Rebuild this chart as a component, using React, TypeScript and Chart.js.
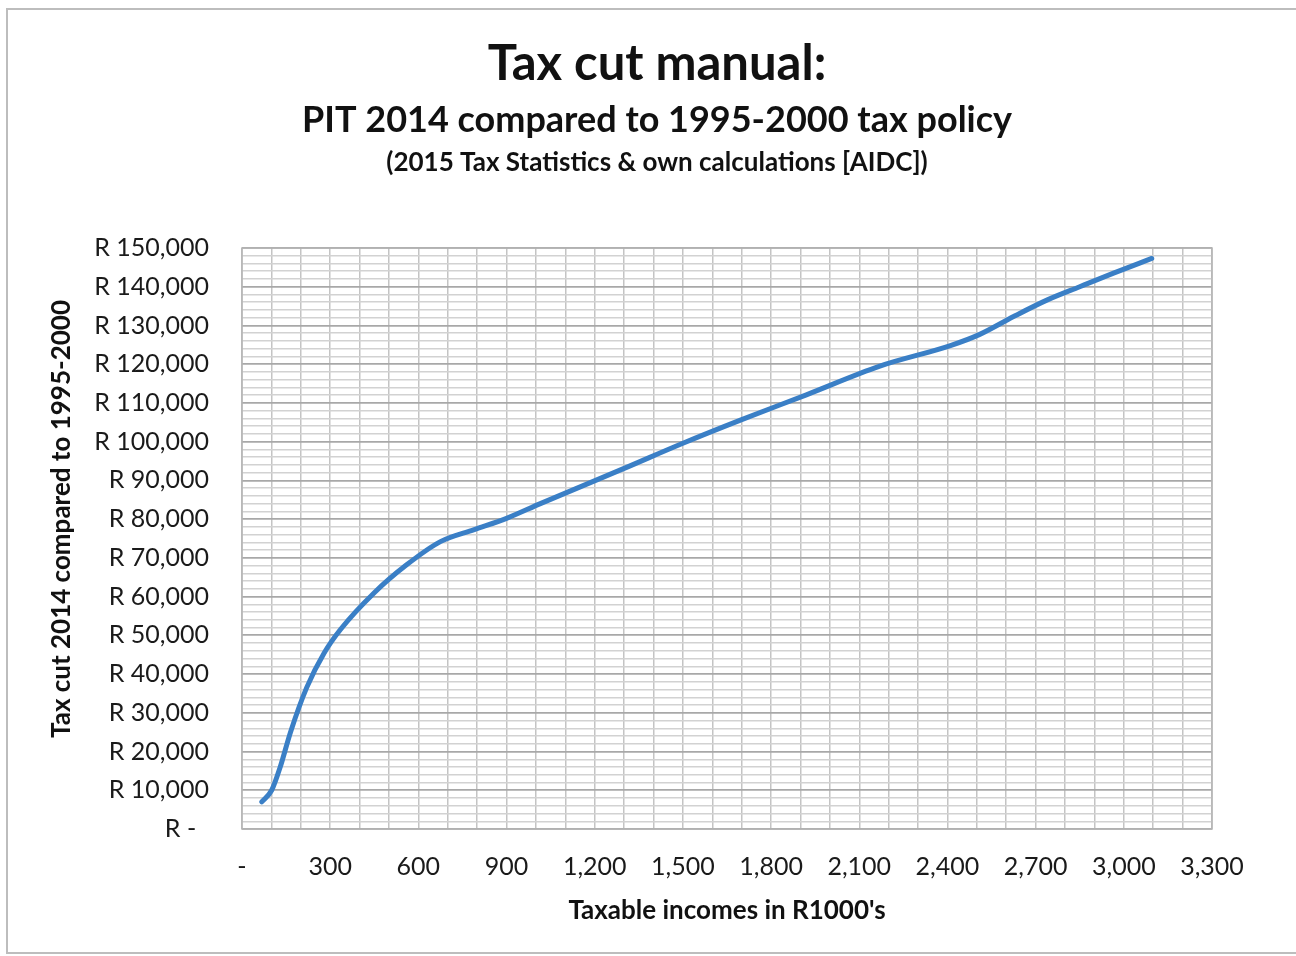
import React, { useEffect, useRef } from "react";
import { Chart, registerables } from "chart.js";

Chart.register(...registerables);

// Taxable income (R1000's) and the matching tax cut (R)
const incomes = [67, 101, 130, 165, 220, 280, 335, 450, 560, 675, 790, 900, 1015, 1300, 1500, 1700, 1920, 2170, 2410, 2510, 2625, 2740, 2850, 2965, 3095];
const taxCuts = [7000, 10000, 16000, 25000, 36500, 45500, 51500, 61000, 68200, 74200, 77300, 80200, 84000, 93100, 99600, 105700, 112100, 119500, 124800, 127700, 132300, 136600, 140000, 143500, 147300];

const titleLines = [
  "Tax cut manual:",
  "PIT 2014 compared to 1995-2000 tax policy",
  "(2015 Tax Statistics & own calculations [AIDC])",
];
const yAxisTitle = "Tax cut 2014 compared to 1995-2000";
const xAxisTitle = "Taxable incomes in R1000's";

const X_MAX = 3300;
const X_LABEL_STEP = 300;
const X_GRID_STEP = 100;
const Y_MAX = 150000;
const Y_LABEL_STEP = 10000;
const Y_GRID_STEP = 2000;

const FONT = "Lato, 'Open Sans', sans-serif";

const fmt = (v: number) => v.toLocaleString("en-US");

// Outer frame of the chart sheet
const framePlugin = {
  id: "frame",
  beforeDraw(chart: Chart) {
    const { ctx } = chart;
    ctx.save();
    ctx.fillStyle = "#fff";
    ctx.fillRect(0, 0, chart.width, chart.height);
    ctx.strokeStyle = "#bdbdbd";
    ctx.lineWidth = 2;
    ctx.beginPath();
    ctx.moveTo(1300, 9);
    ctx.lineTo(7, 9);
    ctx.lineTo(7, 953);
    ctx.lineTo(1300, 953);
    ctx.stroke();
    ctx.restore();
  },
};

const headerPlugin = {
  id: "header",
  afterDraw(chart: Chart) {
    const { ctx, chartArea } = chart;
    ctx.save();
    ctx.fillStyle = "#111";
    ctx.textAlign = "center";
    ctx.textBaseline = "middle";
    const cx = 657;
    ctx.font = `bold 49px ${FONT}`;
    ctx.fillText(titleLines[0], cx, 64);
    ctx.font = `bold 36px ${FONT}`;
    ctx.fillText(titleLines[1], cx, 120);
    ctx.font = `bold 26px ${FONT}`;
    ctx.fillText(titleLines[2], cx, 163);

    // vertical axis title
    ctx.translate(62, 519);
    ctx.rotate(-Math.PI / 2);
    ctx.font = `bold 26px ${FONT}`;
    ctx.fillText(yAxisTitle, 0, 0);
    ctx.restore();

    // plot frame
    ctx.save();
    ctx.strokeStyle = "#b4b4b4";
    ctx.lineWidth = 1.5;
    ctx.strokeRect(chartArea.left, chartArea.top, chartArea.right - chartArea.left, chartArea.bottom - chartArea.top);
    ctx.restore();
  },
};

export default function App() {
  const canvasRef = useRef<HTMLCanvasElement | null>(null);

  useEffect(() => {
    document.body.style.margin = "0";
    if (!canvasRef.current) return;
    const chart = new Chart(canvasRef.current, {
      type: "line",
      data: {
        datasets: [
          {
            data: incomes.map((x, i) => ({ x, y: taxCuts[i] })),
            borderColor: "#3a7fc6",
            borderWidth: 5,
            borderCapStyle: "round",
            pointRadius: 0,
            tension: 0.4,
            cubicInterpolationMode: "monotone",
            fill: false,
          },
        ],
      },
      options: {
        animation: false,
        responsive: false,
        layout: { padding: { top: 248, right: 84, left: 0, bottom: 0 } },
        plugins: {
          legend: { display: false },
          tooltip: { enabled: false },
          title: { display: false },
        },
        scales: {
          x: {
            type: "linear",
            min: 0,
            max: X_MAX,
            afterFit: (scale: any) => {
              scale.height = 127;
            },
            border: { display: false },
            grid: {
              color: "#c4c4c4",
              lineWidth: 1.5,
              drawTicks: false,
            },
            ticks: {
              stepSize: X_GRID_STEP,
              autoSkip: false,
              maxRotation: 0,
              padding: 23,
              color: "#1a1a1a",
              font: { family: FONT, size: 25 },
              callback: (v: any) => {
                const n = Number(v);
                if (n % X_LABEL_STEP !== 0) return "";
                return n === 0 ? "-" : fmt(n);
              },
            },
            title: {
              display: true,
              text: xAxisTitle,
              color: "#111",
              font: { family: FONT, size: 26, weight: "bold" },
              padding: { top: 0, bottom: 30 },
            },
          },
          y: {
            type: "linear",
            min: 0,
            max: Y_MAX,
            afterFit: (scale: any) => {
              scale.width = 242;
            },
            border: { display: false },
            grid: {
              color: (c: any) => (c.tick && c.tick.value % Y_LABEL_STEP === 0 ? "#a8a8a8" : "#d2d2d2"),
              lineWidth: (c: any) => (c.tick && c.tick.value % Y_LABEL_STEP === 0 ? 1.8 : 1.5),
              drawTicks: false,
            },
            ticks: {
              stepSize: Y_GRID_STEP,
              autoSkip: false,
              padding: 33,
              color: "#1a1a1a",
              font: { family: FONT, size: 25 },
              callback: (v: any) => {
                const n = Number(v);
                if (n % Y_LABEL_STEP !== 0) return "";
                return n === 0 ? "R -  " : `R ${fmt(n)}`;
              },
            },
          },
        },
      },
      plugins: [framePlugin, headerPlugin],
    });
    return () => chart.destroy();
  }, []);

  return (
    <div style={{ position: "relative", width: 1296, height: 956, overflow: "hidden", background: "#fff" }}>
      <canvas ref={canvasRef} width={1296} height={956} style={{ position: "absolute", left: 0, top: 0, display: "block" }} />
    </div>
  );
}
